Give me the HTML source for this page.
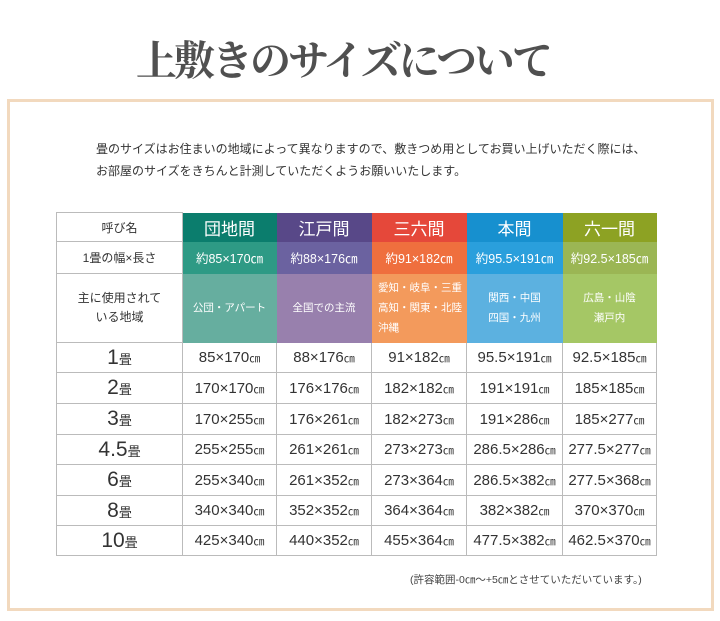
<!DOCTYPE html>
<html><head><meta charset="utf-8"><style>
body{margin:0;width:720px;height:621px;background:#fff;position:relative;overflow:hidden;font-family:"Liberation Sans","Noto Sans CJK JP",sans-serif;color:#333}
.title{position:absolute;left:-17px;width:720px;top:36px;text-align:center;font-family:"Liberation Serif","Noto Serif CJK SC",serif;font-size:41px;font-weight:bold;color:#505050;letter-spacing:-3px;line-height:50px}
.frame{position:absolute;left:7px;top:99px;width:701px;height:506px;border:3px solid #f2d9be}
.intro{position:absolute;left:96px;top:138px;font-size:12px;line-height:22px;color:#333}
table{position:absolute;left:56px;top:212px;border-collapse:collapse;table-layout:fixed}
td{border:1px solid #bbb;text-align:center;padding:0;white-space:nowrap}
td.h{font-size:17px;color:#fff;border-color:transparent}
td.w{font-size:12.5px;color:#fff;border-color:transparent}
td.r{font-size:10.5px;color:#fff;line-height:20px;border-color:transparent}
td.l{font-size:12px;color:#333}
td.n{font-size:21px;color:#333}
td.n small{font-size:13px}
td.v{font-size:15px;color:#333}
td.v small{font-size:11px}
.note{position:absolute;left:410px;top:572px;font-size:10.5px;color:#444}
</style></head><body>
<div class="title">上敷きのサイズについて</div>
<div class="frame"></div>
<div class="intro">畳のサイズはお住まいの地域によって異なりますので、敷きつめ用としてお買い上げいただく際には、<br>お部屋のサイズをきちんと計測していただくようお願いいたします。</div>
<table>
<colgroup><col style="width:126px"><col style="width:94px"><col style="width:95px"><col style="width:95px"><col style="width:96px"><col style="width:94px"></colgroup>
<tr style="height:29px"><td class="l">呼び名</td><td class="h" style="background:#0b7d6d">団地間</td><td class="h" style="background:#584888">江戸間</td><td class="h" style="background:#e5483a">三六間</td><td class="h" style="background:#1790cf">本間</td><td class="h" style="background:#8da223">六一間</td></tr>
<tr style="height:32px"><td class="l">1畳の幅×長さ</td><td class="w" style="background:#2e9a85">約85×170㎝</td><td class="w" style="background:#6b62a0">約88×176㎝</td><td class="w" style="background:#ef6f3e">約91×182㎝</td><td class="w" style="background:#2a9fdc">約95.5×191㎝</td><td class="w" style="background:#9bb654">約92.5×185㎝</td></tr>
<tr style="height:69px"><td class="l" style="line-height:19px">主に使用されて<br>いる地域</td><td class="r" style="background:#66ae9f">公団・アパート</td><td class="r" style="background:#9880ad">全国での主流</td><td class="r" style="background:#f39a5c;text-align:left;padding-left:6px">愛知・岐阜・三重<br>高知・関東・北陸<br>沖縄</td><td class="r" style="background:#5cb1e0">関西・中国<br>四国・九州</td><td class="r" style="background:#a5c765">広島・山陰<br>瀬戸内</td></tr>
<tr style="height:30px"><td class="n">1<small>畳</small></td><td class="v">85×170<small>㎝</small></td><td class="v">88×176<small>㎝</small></td><td class="v">91×182<small>㎝</small></td><td class="v">95.5×191<small>㎝</small></td><td class="v">92.5×185<small>㎝</small></td></tr>
<tr style="height:31px"><td class="n">2<small>畳</small></td><td class="v">170×170<small>㎝</small></td><td class="v">176×176<small>㎝</small></td><td class="v">182×182<small>㎝</small></td><td class="v">191×191<small>㎝</small></td><td class="v">185×185<small>㎝</small></td></tr>
<tr style="height:31px"><td class="n">3<small>畳</small></td><td class="v">170×255<small>㎝</small></td><td class="v">176×261<small>㎝</small></td><td class="v">182×273<small>㎝</small></td><td class="v">191×286<small>㎝</small></td><td class="v">185×277<small>㎝</small></td></tr>
<tr style="height:30px"><td class="n">4.5<small>畳</small></td><td class="v">255×255<small>㎝</small></td><td class="v">261×261<small>㎝</small></td><td class="v">273×273<small>㎝</small></td><td class="v">286.5×286<small>㎝</small></td><td class="v">277.5×277<small>㎝</small></td></tr>
<tr style="height:31px"><td class="n">6<small>畳</small></td><td class="v">255×340<small>㎝</small></td><td class="v">261×352<small>㎝</small></td><td class="v">273×364<small>㎝</small></td><td class="v">286.5×382<small>㎝</small></td><td class="v">277.5×368<small>㎝</small></td></tr>
<tr style="height:30px"><td class="n">8<small>畳</small></td><td class="v">340×340<small>㎝</small></td><td class="v">352×352<small>㎝</small></td><td class="v">364×364<small>㎝</small></td><td class="v">382×382<small>㎝</small></td><td class="v">370×370<small>㎝</small></td></tr>
<tr style="height:30px"><td class="n">10<small>畳</small></td><td class="v">425×340<small>㎝</small></td><td class="v">440×352<small>㎝</small></td><td class="v">455×364<small>㎝</small></td><td class="v">477.5×382<small>㎝</small></td><td class="v">462.5×370<small>㎝</small></td></tr>
</table>
<div class="note">(許容範囲-0㎝～+5㎝とさせていただいています。)</div>
</body></html>
